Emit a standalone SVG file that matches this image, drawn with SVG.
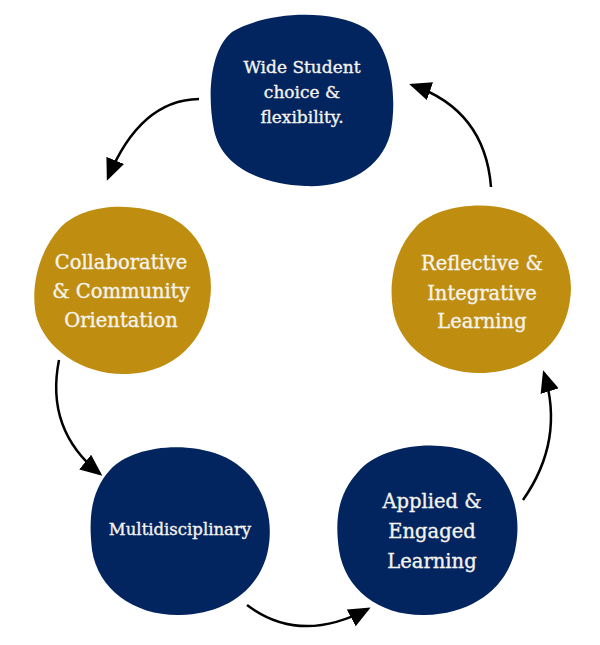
<svg xmlns="http://www.w3.org/2000/svg" width="600" height="645" viewBox="0 0 600 645">
<style>
.navy{fill:#03255f}
.gold{fill:#bf8e10}
.lbl{font-family:"DejaVu Serif","Liberation Serif",serif;fill:#f5f3ee;stroke:#f5f3ee;stroke-width:0.35;text-anchor:middle}
.conn{fill:none;stroke:#000;stroke-width:2.5}
</style>
<defs>
<marker id="ah" markerUnits="userSpaceOnUse" viewBox="0 0 22 19" markerWidth="22" markerHeight="19" refX="19" refY="9.5" orient="auto">
<path d="M0,0 L22,9.5 L0,19 Z" fill="#000"/>
</marker>
</defs>
<rect width="600" height="645" fill="#fff"/>
<g id="connectors">
<path class="conn" d="M199,99 Q140,100 108,178" marker-end="url(#ah)"/>
<path class="conn" d="M59,360 Q45,430 100,474" marker-end="url(#ah)"/>
<path class="conn" d="M247,605 Q300,645 368,609" marker-end="url(#ah)"/>
<path class="conn" d="M523,500 Q565,440 544,373" marker-end="url(#ah)"/>
<path class="conn" d="M491,187 Q485,110 412,85" marker-end="url(#ah)"/>
</g>
<g id="node-wide">
<path class="navy" d="M232,32 C265,12 330,8 365,28 C392,45 398,100 390,135 C380,170 345,188 305,186 C262,184 222,168 214,130 C207,95 210,50 232,32 Z"/>
<text class="lbl" font-size="17" x="302" y="73">Wide Student</text>
<text class="lbl" font-size="17" x="302" y="98">choice &amp;</text>
<text class="lbl" font-size="17" x="302" y="123">flexibility.</text>
</g>
<g id="node-collab">
<path class="gold" d="M60,228 C78,208 120,200 160,213 C200,226 215,265 210,300 C205,340 175,372 128,374 C85,376 45,350 36,315 C30,285 40,250 60,228 Z"/>
<text class="lbl" font-size="19.5" x="121" y="269">Collaborative</text>
<text class="lbl" font-size="19.5" x="121" y="298">&amp; Community</text>
<text class="lbl" font-size="19.5" x="121" y="327">Orientation</text>
</g>
<g id="node-reflective">
<path class="gold" d="M415,228 C435,205 490,198 525,215 C560,232 575,270 570,300 C565,340 535,370 485,373 C440,375 400,350 393,310 C388,280 396,248 415,228 Z"/>
<text class="lbl" font-size="19.5" x="482" y="270">Reflective &amp;</text>
<text class="lbl" font-size="19.5" x="482" y="300">Integrative</text>
<text class="lbl" font-size="19.5" x="482" y="328">Learning</text>
</g>
<g id="node-multi">
<path class="navy" d="M110,470 C130,448 180,440 220,455 C262,472 275,515 268,550 C260,590 225,614 180,615 C135,616 98,590 92,550 C88,515 92,490 110,470 Z"/>
<text class="lbl" font-size="16.5" x="180" y="535">Multidisciplinary</text>
</g>
<g id="node-applied">
<path class="navy" d="M358,472 C378,448 430,438 470,452 C510,468 522,510 516,545 C510,585 475,614 425,615 C380,616 345,590 339,550 C334,515 340,492 358,472 Z"/>
<text class="lbl" font-size="19.5" x="432" y="508">Applied &amp;</text>
<text class="lbl" font-size="19.5" x="432" y="538">Engaged</text>
<text class="lbl" font-size="19.5" x="432" y="568">Learning</text>
</g>
</svg>
